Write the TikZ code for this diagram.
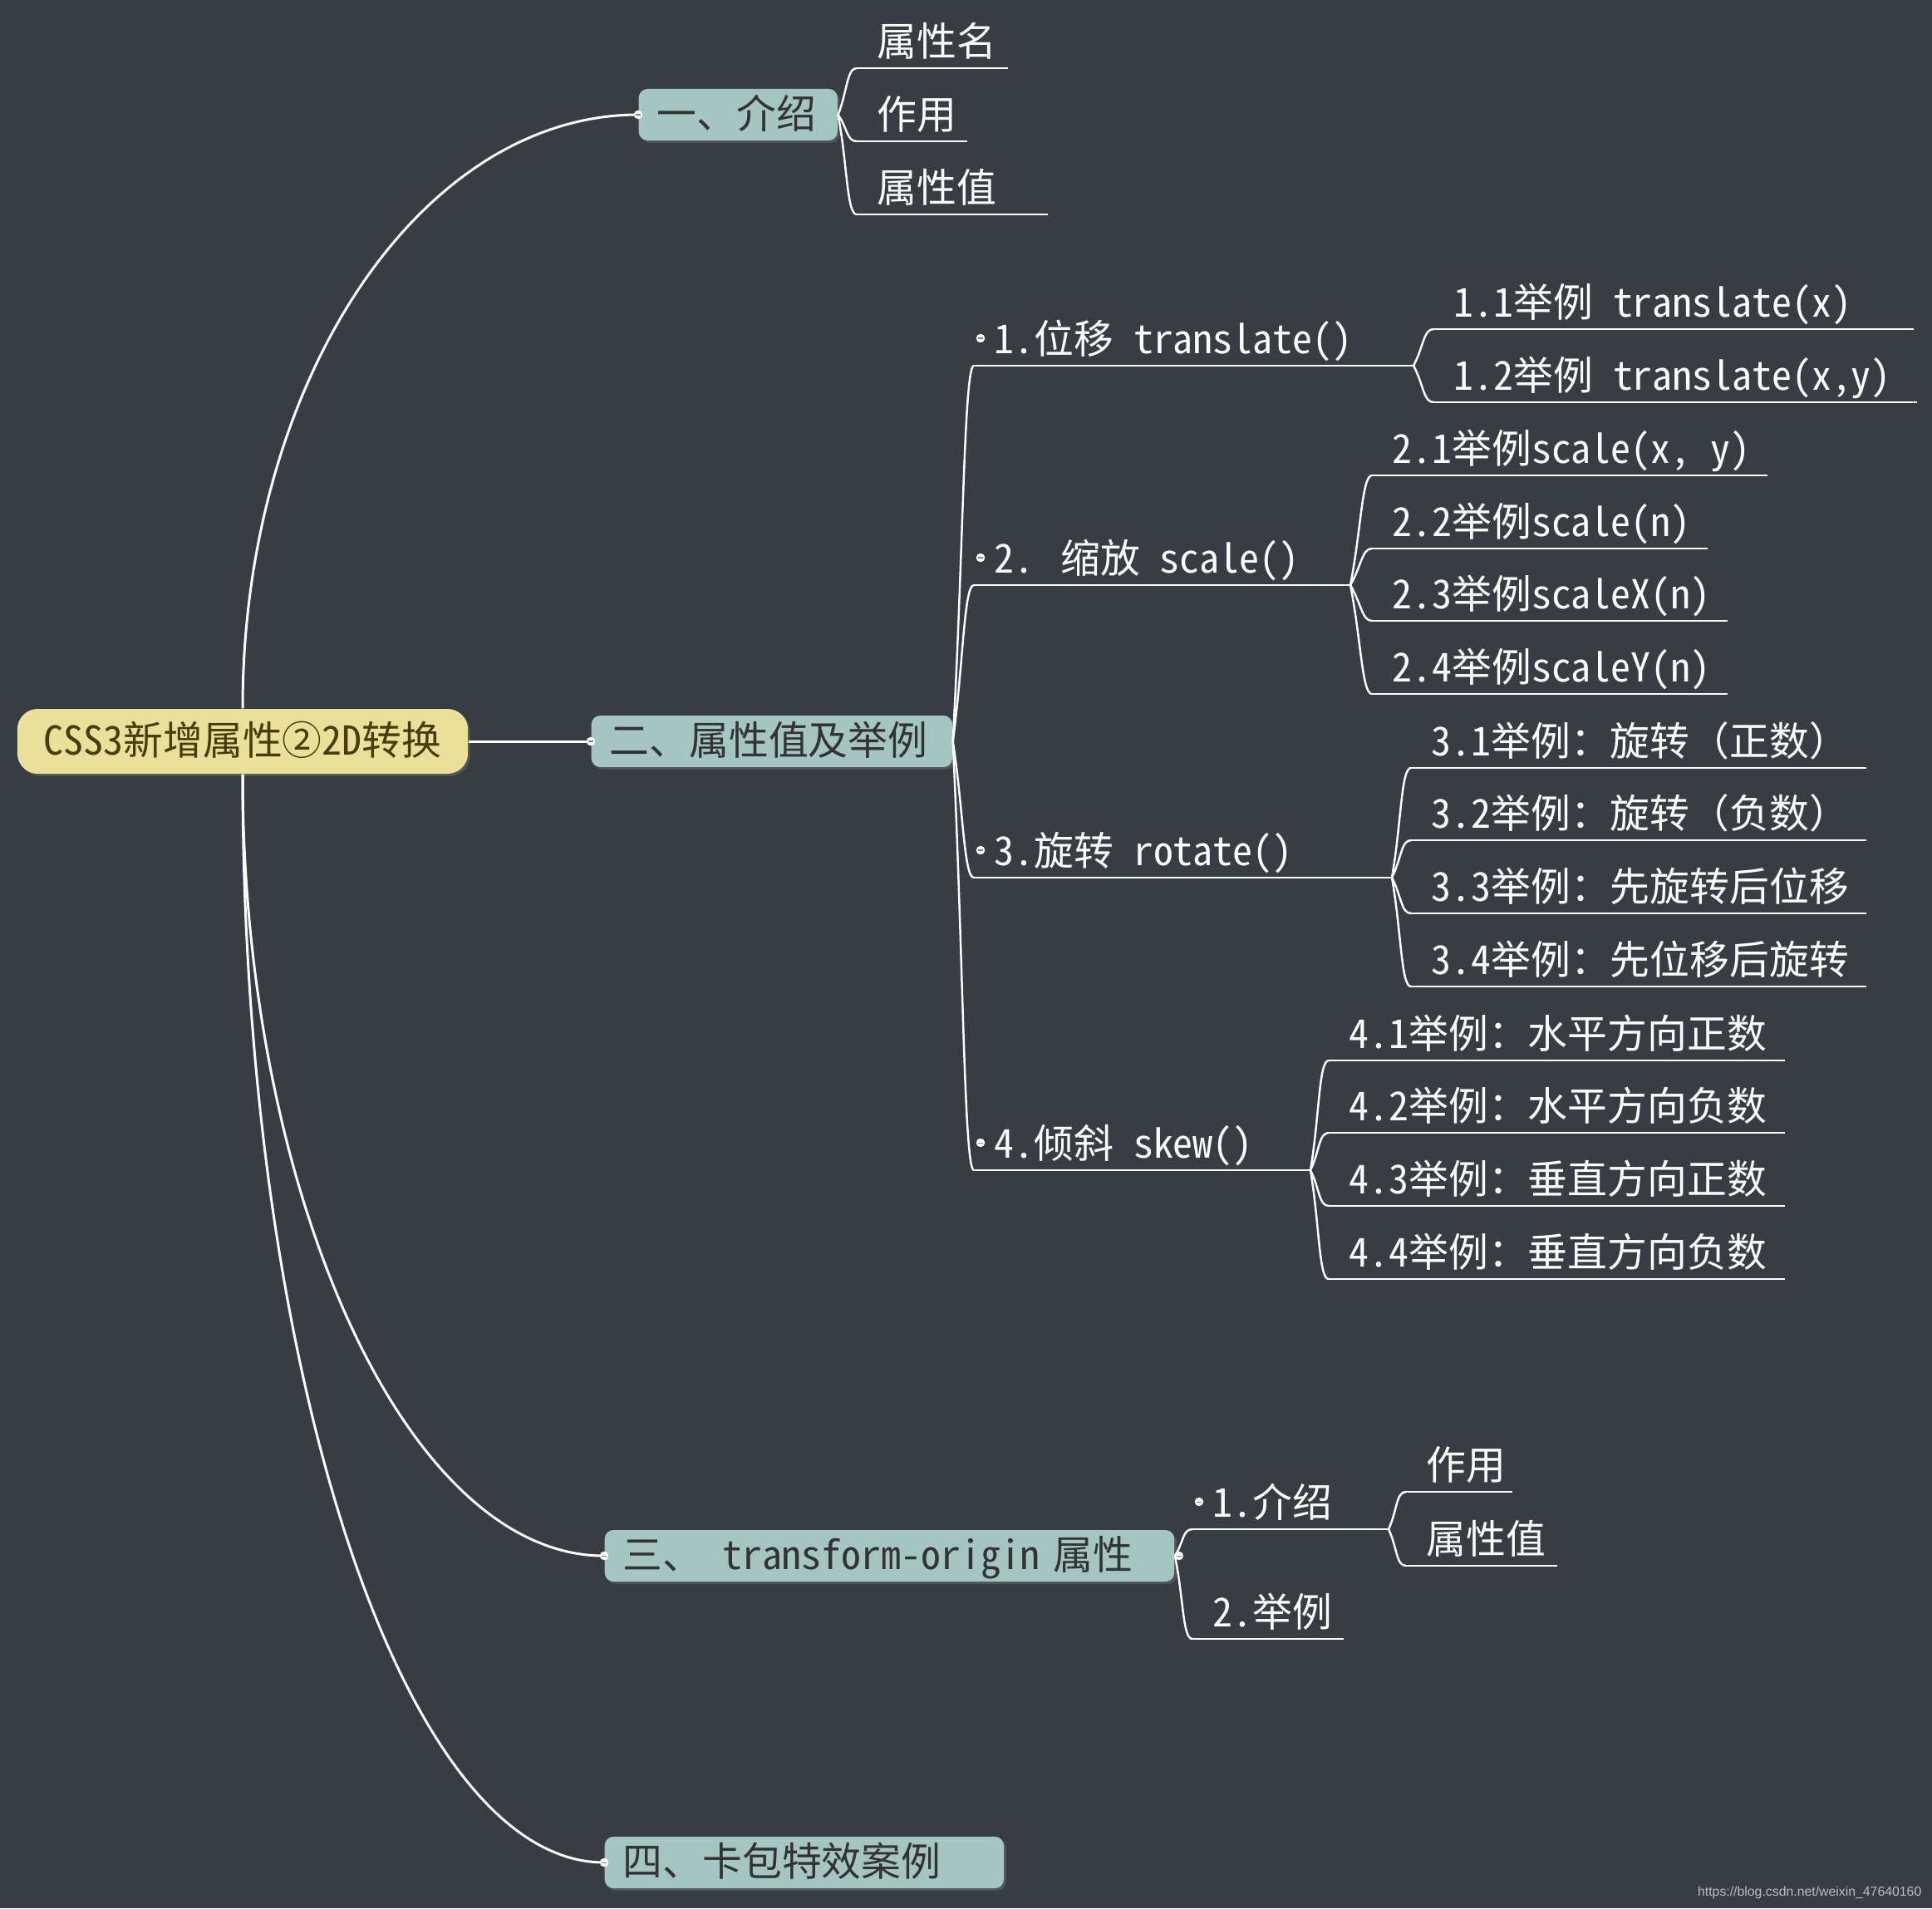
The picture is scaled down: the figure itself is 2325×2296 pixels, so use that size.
\documentclass[tikz,border=0pt]{standalone}
\usepackage{fontspec}
\setmainfont{Noto Sans CJK SC}[RawFeature=+hwid]
\newfontfamily\fw{Noto Sans CJK SC}
\newfontfamily\urlfont{Liberation Sans}
\usepackage{tikz}
\usetikzlibrary{calc,shadows}

\definecolor{bgc}{HTML}{373D42}
\definecolor{topicc}{HTML}{A4C5C0}
\definecolor{topictext}{HTML}{333333}
\definecolor{rootc}{HTML}{E9E09A}
\definecolor{roottext}{HTML}{4A3B0C}
\definecolor{markc}{HTML}{BDBDBD}

\newcommand\mmfont{\fontsize{13.6pt}{16pt}\selectfont}

% 带下划线的子项：名称, 起点x, 下划线y, 终点x, 文本
\newcommand\leafnode[5]{%
  \coordinate (#1L) at (#2,#3);
  \coordinate (#1R) at (#4,#3);
  \draw[uline] (#1L) -- (#1R);
  \node[leaftext] (#1) at ($(#1L)+(24,-15)$) {#5};
}

\begin{document}
\begin{tikzpicture}[x=0.01cm,y=-0.01cm,
    rootbox/.style={fill=rootc, text=roottext, rounded corners=7pt,
        minimum width=5.42cm, minimum height=0.78cm, inner ysep=0.04cm,
        text height=0.95em, text depth=0.02em, font=\mmfont,
        drop shadow={shadow xshift=0.8pt, shadow yshift=-0.8pt, opacity=0.35}},
    topicbox/.style={fill=topicc, text=topictext, rounded corners=3pt, anchor=west,
        minimum height=0.62cm, inner xsep=0.22cm, inner ysep=0.04cm, align=left,
        text height=0.95em, text depth=0.02em, font=\mmfont,
        drop shadow={shadow xshift=0.8pt, shadow yshift=-0.8pt, opacity=0.35}},
    leaftext/.style={anchor=base west, inner sep=0pt, text=white, font=\mmfont},
    trunkline/.style={white, line width=0.85pt},
    twigline/.style={white, line width=0.7pt},
    uline/.style={white, line width=0.65pt},
    curvy/.style={to path={.. controls ($(\tikztostart)!0.5!(\tikztotarget)$)
        and ($(\tikztotarget)+(-12,0)$) .. (\tikztotarget)}},
    knob/.pic={\fill[white] (0pt,0pt) circle[radius=1.5pt];
        \draw[gray, line width=0.3pt] (-0.8pt,0pt) -- (0.8pt,0pt);}
]
    % 背景
    \path[use as bounding box, fill=bgc] (0,0) rectangle (2325,2296);

    % 中心主题
    \node[rootbox] (root) at (292,892) {CSS3新增属性②2D转换};

    % 分支主题
    \node[topicbox, text width=1.95cm] (n1) at (768,138) {一、介绍};
    \node[topicbox, text width=3.90cm] (n2) at (711,892) {二、属性值及举例};
    \node[topicbox, text width=6.41cm] (n3) at (727,1872) {三、\, transform-origin 属性};
    \node[topicbox, text width=4.36cm] (n4) at (727,2241) {四、卡包特效案例};

    % 主干连线
    \draw[trunkline] (root.east) -- (n2.west);
    \draw[trunkline] (root.north) .. controls ($(root.north)+(0,-395)$)
        and ($(n1.west)+(-261,0)$) .. (n1.west);
    \draw[trunkline] (root.south) .. controls ($(root.south)+(0,500)$)
        and ($(n3.west)+(-240,0)$) .. (n3.west);
    \draw[trunkline] (root.south) .. controls ($(root.south)+(0,723)$)
        and ($(n4.west)+(-240,0)$) .. (n4.west);

    % 一、介绍
    \leafnode{a1}{1031}{82}{1213}{属性名}
    \leafnode{a2}{1031}{170}{1164}{作用}
    \leafnode{a3}{1031}{258}{1261}{属性值}

    % 二、属性值及举例
    \leafnode{b1}{1172}{440}{1701}{1.位移 translate()}
    \leafnode{b2}{1172}{704}{1625}{2. 缩放 scale()}
    \leafnode{b3}{1172}{1056}{1675}{3.旋转 rotate()}
    \leafnode{b4}{1172}{1408}{1577}{4.倾斜 skew()}

    \leafnode{b11}{1725}{396}{2303}{1.1举例 translate(x)}
    \leafnode{b12}{1725}{484}{2307}{1.2举例 translate(x,y)}

    \leafnode{b21}{1651}{572}{2127}{2.1举例scale(x, y)}
    \leafnode{b22}{1651}{660}{2055}{2.2举例scale(n)}
    \leafnode{b23}{1651}{747}{2079}{2.3举例scaleX(n)}
    \leafnode{b24}{1651}{835}{2079}{2.4举例scaleY(n)}

    \leafnode{b31}{1698}{924}{2246}{3.1举例：旋转{\fw（正数）}}
    \leafnode{b32}{1698}{1011}{2246}{3.2举例：旋转{\fw（负数）}}
    \leafnode{b33}{1698}{1099}{2246}{3.3举例：先旋转后位移}
    \leafnode{b34}{1698}{1187}{2246}{3.4举例：先位移后旋转}

    \leafnode{b41}{1599}{1276}{2148}{4.1举例：水平方向正数}
    \leafnode{b42}{1599}{1363}{2148}{4.2举例：水平方向负数}
    \leafnode{b43}{1599}{1451}{2148}{4.3举例：垂直方向正数}
    \leafnode{b44}{1599}{1539}{2148}{4.4举例：垂直方向负数}

    % 三、transform-origin 属性
    \leafnode{c1}{1435}{1840}{1671}{1.介绍}
    \leafnode{c2}{1435}{1972}{1617}{2.举例}
    \leafnode{c11}{1692}{1795}{1820}{作用}
    \leafnode{c12}{1692}{1884}{1874}{属性值}

    % 子项连线
    \foreach \k in {a1,a2,a3} \draw[twigline] (n1.east) to[curvy] (\k L);
    \foreach \k in {b1,b2,b3,b4} \draw[twigline] (n2.east) to[curvy] (\k L);
    \foreach \k in {b11,b12} \draw[twigline] (b1R) to[curvy] (\k L);
    \foreach \k in {b21,b22,b23,b24} \draw[twigline] (b2R) to[curvy] (\k L);
    \foreach \k in {b31,b32,b33,b34} \draw[twigline] (b3R) to[curvy] (\k L);
    \foreach \k in {b41,b42,b43,b44} \draw[twigline] (b4R) to[curvy] (\k L);
    \foreach \k in {c1,c2} \draw[twigline] (n3.east) to[curvy] (\k L);
    \foreach \k in {c11,c12} \draw[twigline] (c1R) to[curvy] (\k L);

    % 折叠圆点
    \foreach \k in {n1,n2,n3,n4} \pic at (\k.west) {knob};
    \pic at ($(n3.east)+(5,0)$) {knob};
    \foreach \k in {b1,b2,b3,b4,c1} \pic at ($(\k L)+(8,-33)$) {knob};

    % 水印
    \node[anchor=base east, inner sep=0pt, text=markc,
        font=\urlfont\fontsize{4.5pt}{5.5pt}\selectfont] (mark) at (2313,2281)
        {https://blog.csdn.net/weixin\_47640160};
\end{tikzpicture}
\end{document}
